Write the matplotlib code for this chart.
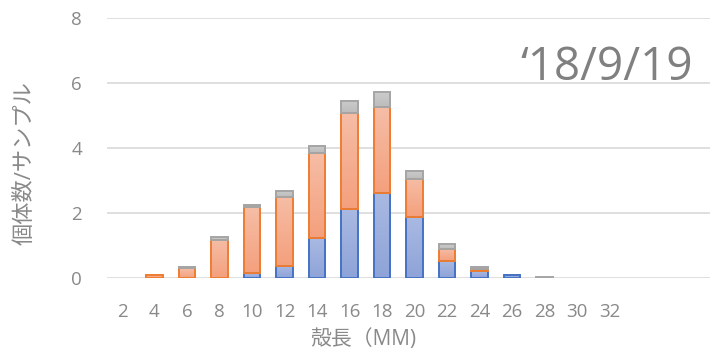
import numpy as np
import matplotlib
matplotlib.use("Agg")
import matplotlib.pyplot as plt
from matplotlib.colors import LinearSegmentedColormap

plt.rcParams['font.family'] = ['Open Sans', 'Noto Sans CJK JP', 'DejaVu Sans']

# Shell length classes (mm) and stacked counts per sample
lengths = [2, 4, 6, 8, 10, 12, 14, 16, 18, 20, 22, 24, 26, 28, 30, 32]
blue_counts = [0, 0, 0, 0, 0.15, 0.37, 1.22, 2.12, 2.63, 1.87, 0.53, 0.21, 0.10, 0, 0, 0]
orange_counts = [0, 0.10, 0.30, 1.18, 2.03, 2.13, 2.62, 2.95, 2.62, 1.17, 0.37, 0.06, 0, 0, 0, 0]
gray_counts = [0, 0, 0.05, 0.07, 0.07, 0.19, 0.22, 0.39, 0.46, 0.25, 0.14, 0.07, 0, 0.02, 0, 0]
y_ticks = [0, 2, 4, 6, 8]

series = [
    (blue_counts, '#a9b9e2', '#8ea3d8', '#4472c4'),
    (orange_counts, '#f6bda6', '#f4a07d', '#ed7d31'),
    (gray_counts, '#cccccc', '#bcbcbc', '#a5a5a5'),
]

W, H = 713, 355
fig = plt.figure(figsize=(W / 100, H / 100), dpi=100)
ax = fig.add_axes([107 / W, 1 - 278 / H, (710 - 107) / W, (278 - 18) / H])

x = np.arange(len(lengths))
width = 0.52
bottom = np.zeros(len(lengths))
grad = np.linspace(0, 1, 64).reshape(-1, 1)

for values, top_c, bot_c, edge_c in series:
    values = np.asarray(values, dtype=float)
    cmap = LinearSegmentedColormap.from_list('g', [bot_c, top_c])
    for xi, b, v in zip(x, bottom, values):
        if v <= 0:
            continue
        ax.imshow(grad, extent=[xi - width / 2, xi + width / 2, b, b + v],
                  origin='lower', cmap=cmap, aspect='auto', zorder=2,
                  interpolation='bilinear')
    ax.bar(x[values > 0], values[values > 0], width=width,
           bottom=bottom[values > 0], facecolor='none',
           edgecolor=edge_c, linewidth=1.4, zorder=3)
    bottom += values

ax.set_xlim(-0.46, 18.09)
ax.set_ylim(0, 8)
ax.set_yticks(y_ticks)
ax.set_xticks(x)
ax.set_xticklabels([str(v) for v in lengths])
ax.yaxis.grid(True, color='#d9d9d9', linewidth=1.2, zorder=0)
ax.set_axisbelow(True)
for s in ax.spines.values():
    s.set_visible(False)
ax.tick_params(axis='both', length=0, labelsize=13.5, labelcolor='#898989')
ax.tick_params(axis='y', pad=18)
ax.tick_params(axis='x', pad=18)

fig.text(25 / W, 1 - 163 / H, '個体数/サンプル', rotation=90, ha='center', va='center',
         fontsize=16, color='#898989')
fig.text(363 / W, 1 - 340 / H, '殻長（MM)', ha='center', va='center',
         fontsize=15, color='#898989')
fig.text(693 / W, 1 - 80 / H, '‘18/9/19', ha='right', va='baseline',
         fontsize=33, color='#808080')

fig.savefig('out.png', dpi=100)
